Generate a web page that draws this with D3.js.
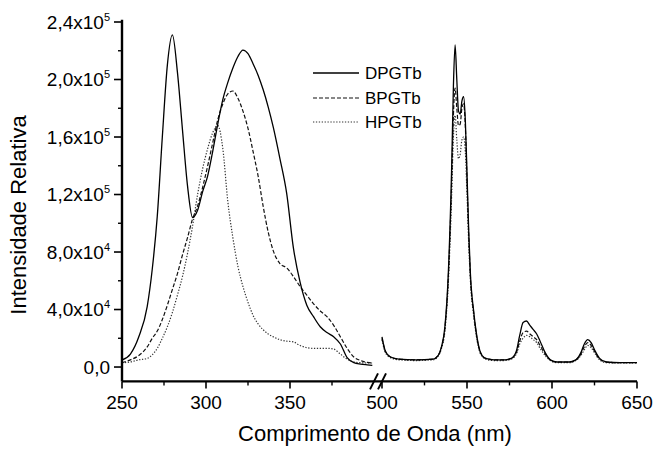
<!DOCTYPE html>
<html>
<head>
<meta charset="utf-8">
<script src="https://cdn.jsdelivr.net/npm/d3@7"></script>
<style>
  html, body { margin: 0; padding: 0; background: #fff; }
  svg { display: block; font-family: "Liberation Sans", Arial, sans-serif; }
</style>
</head>
<body>
<svg id="chart" width="653" height="449"></svg>
<script>
// ---------- DATA (values in units of 1e4 counts) ----------
const seriesNames = ["DPGTb", "BPGTb", "HPGTb"];

const nmLeft = [250, 255, 260, 265, 268, 271, 274, 277, 280, 283, 286, 289, 292, 295, 298, 301, 304, 307, 310, 313, 316, 319, 322, 325, 328, 331, 334, 337, 340, 344, 348, 352, 356, 360, 364, 368, 372, 376, 380, 384, 388, 392, 396, 399];

const dpgtbLeft = [0.49, 0.9, 2.1, 4.2, 6.8, 10.5, 16.0, 21.0, 23.1, 20.5, 16.5, 12.6, 10.4, 10.9, 12.2, 13.3, 15.0, 16.9, 18.6, 19.8, 20.8, 21.6, 22.05, 21.8, 21.1, 20.3, 19.3, 18.1, 16.7, 14.5, 12.1, 8.3, 5.9, 4.3, 3.5, 2.8, 2.4, 2.1, 1.6, 0.65, 0.3, 0.2, 0.15, 0.12];

const bpgtbLeft = [0.3, 0.5, 0.8, 1.4, 2.0, 2.5, 3.3, 4.3, 5.4, 6.5, 7.8, 9.0, 10.3, 11.2, 12.5, 14.0, 15.6, 17.2, 18.3, 19.0, 19.2, 18.7, 17.8, 16.6, 15.0, 13.3, 11.2, 9.4, 8.1, 7.2, 6.9, 6.3, 5.6, 5.0, 4.4, 3.9, 3.5, 2.9, 2.1, 1.3, 0.7, 0.45, 0.32, 0.28];

const hpgtbLeft = [0.3, 0.35, 0.5, 0.6, 0.85, 1.3, 2.0, 2.8, 3.8, 5.0, 6.3, 7.9, 9.8, 12.0, 13.8, 15.2, 16.3, 16.8, 15.2, 11.5, 9.0, 7.0, 5.6, 4.5, 3.6, 3.0, 2.6, 2.3, 2.1, 1.9, 1.8, 1.75, 1.5, 1.35, 1.3, 1.3, 1.3, 1.25, 0.9, 0.55, 0.35, 0.3, 0.28, 0.28];

const nmRight = [500, 502, 505, 510, 520, 530, 533, 535, 537, 539, 541, 542, 543, 544, 545, 546, 547, 548, 549, 550, 551, 552, 554, 556, 558, 561, 566, 572, 576, 579, 581, 583, 585, 587, 589, 591, 593, 596, 599, 603, 610, 614, 617, 619, 621, 623, 625, 628, 632, 640, 650];

const dpgtbRight = [2.1, 1.1, 0.7, 0.55, 0.5, 0.55, 0.8, 1.4, 2.8, 6.5, 14.0, 19.5, 22.4, 20.0, 17.8, 17.6, 18.5, 18.8, 17.2, 13.5, 9.5, 6.5, 3.8, 2.0, 1.0, 0.6, 0.5, 0.5, 0.6, 1.1, 2.2, 3.1, 3.2, 2.9, 2.6, 2.3, 1.8, 1.0, 0.5, 0.35, 0.35, 0.5, 1.0, 1.6, 1.9, 1.7, 1.2, 0.6, 0.35, 0.3, 0.3];

const bpgtbRight = [2.0, 1.1, 0.7, 0.55, 0.5, 0.55, 0.8, 1.4, 2.7, 6.2, 13.0, 17.5, 19.4, 18.0, 16.8, 16.9, 18.0, 18.3, 16.8, 13.0, 9.2, 6.3, 3.7, 1.9, 1.0, 0.6, 0.5, 0.5, 0.6, 1.0, 1.8, 2.4, 2.5, 2.3, 2.1, 1.9, 1.5, 0.9, 0.5, 0.35, 0.35, 0.5, 0.9, 1.4, 1.7, 1.5, 1.1, 0.55, 0.35, 0.3, 0.3];

const hpgtbRight = [1.9, 1.0, 0.65, 0.5, 0.45, 0.5, 0.75, 1.3, 2.5, 5.8, 12.0, 16.0, 17.5, 15.8, 14.5, 14.8, 15.8, 16.0, 15.0, 12.0, 8.6, 6.0, 3.5, 1.8, 0.9, 0.55, 0.45, 0.45, 0.55, 0.9, 1.6, 2.0, 2.2, 2.1, 1.9, 1.7, 1.3, 0.8, 0.45, 0.3, 0.3, 0.45, 0.8, 1.2, 1.5, 1.35, 1.0, 0.5, 0.3, 0.28, 0.28];

const valueUnit = 1e4;

const xMajorTicks = [250, 300, 350, 500, 550, 600, 650];
const xMinorTicks = [275, 325, 375, 525, 575, 625];
const yMajorTicks = [0, 40000, 80000, 120000, 160000, 200000, 240000];
const yMinorTicks = [20000, 60000, 100000, 140000, 180000, 220000];
const yTickMantissa = ["0,0", "4,0x10", "8,0x10", "1,2x10", "1,6x10", "2,0x10", "2,4x10"];
const yTickExponent = ["", "4", "4", "5", "5", "5", "5"];

const xTitle = "Comprimento de Onda (nm)";
const yTitle = "Intensidade Relativa";

// ---------- LAYOUT ----------
const svg = d3.select("#chart");
const plotLeft = 122, plotBottom = 381.4, plotTop = 22;

const x = d3.scaleLinear()
  .domain([250, 400, 500, 650])
  .range([122, 374, 382, 637]);
const y = d3.scaleLinear()
  .domain([-10000, 240000])
  .range([plotBottom, plotTop]);

const styles = [
  { dash: null, color: "#000", width: 1.3 },
  { dash: "4,2", color: "#111", width: 1.2 },
  { dash: "1.3,1.6", color: "#333", width: 1.2 }
];

const leftSets = [dpgtbLeft, bpgtbLeft, hpgtbLeft];
const rightSets = [dpgtbRight, bpgtbRight, hpgtbRight];

const line = d3.line()
  .x(d => x(d[0]))
  .y(d => y(d[1] * valueUnit))
  .curve(d3.curveMonotoneX);

const g = svg.append("g");

[2, 1, 0].forEach(i => {
  const st = styles[i];
  [[nmLeft, leftSets[i]], [nmRight, rightSets[i]]].forEach(([xs, vs]) => {
    g.append("path")
      .datum(xs.map((n, k) => [n, vs[k]]))
      .attr("fill", "none")
      .attr("stroke", st.color)
      .attr("stroke-width", st.width)
      .attr("stroke-dasharray", st.dash)
      .attr("stroke-linejoin", "round")
      .attr("d", line);
  });
});

// ---------- AXES ----------
const axisColor = "#000";
const yAxisG = svg.append("g").attr("transform", `translate(${plotLeft},0)`);
yAxisG.append("line")
  .attr("x1", 0).attr("x2", 0)
  .attr("y1", y(-10000)).attr("y2", y(241500))
  .attr("stroke", axisColor).attr("stroke-width", 2.4);
yAxisG.selectAll(".ymaj").data(yMajorTicks).enter().append("line")
  .attr("x1", -8).attr("x2", 0)
  .attr("y1", d => y(d)).attr("y2", d => y(d))
  .attr("stroke", axisColor).attr("stroke-width", 1.6);
yAxisG.selectAll(".ymin").data(yMinorTicks).enter().append("line")
  .attr("x1", -4).attr("x2", 0)
  .attr("y1", d => y(d)).attr("y2", d => y(d))
  .attr("stroke", axisColor).attr("stroke-width", 1.4);

const yl = yAxisG.selectAll(".ylab").data(yMajorTicks).enter().append("text")
  .attr("x", -12)
  .attr("y", d => y(d))
  .attr("dy", "0.36em")
  .attr("text-anchor", "end")
  .attr("font-size", 19)
  .attr("fill", "#000");
yl.each(function(d, i) {
  const t = d3.select(this);
  t.append("tspan").text(yTickMantissa[i]);
  if (yTickExponent[i]) {
    t.append("tspan").attr("font-size", 11).attr("dy", "-0.75em").text(yTickExponent[i]);
  }
});

const xAxisG = svg.append("g");
xAxisG.append("line")
  .attr("x1", plotLeft).attr("x2", x(650))
  .attr("y1", plotBottom).attr("y2", plotBottom)
  .attr("stroke", axisColor).attr("stroke-width", 2.4);
xAxisG.selectAll(".xmaj").data(xMajorTicks).enter().append("line")
  .attr("x1", d => x(d)).attr("x2", d => x(d))
  .attr("y1", plotBottom).attr("y2", plotBottom + 7)
  .attr("stroke", axisColor).attr("stroke-width", 1.6);
xAxisG.selectAll(".xmin").data(xMinorTicks).enter().append("line")
  .attr("x1", d => x(d)).attr("x2", d => x(d))
  .attr("y1", plotBottom).attr("y2", plotBottom + 4)
  .attr("stroke", axisColor).attr("stroke-width", 1.4);
xAxisG.selectAll(".xlab").data(xMajorTicks).enter().append("text")
  .attr("x", d => x(d))
  .attr("y", 409)
  .attr("text-anchor", "middle")
  .attr("font-size", 19)
  .attr("fill", "#000")
  .text(d => d);

const bx = (x(400) + x(500)) / 2;
[-4, 4].forEach(off => {
  xAxisG.append("line")
    .attr("x1", bx + off - 4).attr("y1", plotBottom + 8)
    .attr("x2", bx + off + 4).attr("y2", plotBottom - 8)
    .attr("stroke", axisColor).attr("stroke-width", 2);
});

svg.append("text")
  .attr("x", 375).attr("y", 441)
  .attr("text-anchor", "middle")
  .attr("font-size", 22)
  .attr("fill", "#000")
  .text(xTitle);
svg.append("text")
  .attr("transform", "translate(26,215) rotate(-90)")
  .attr("text-anchor", "middle")
  .attr("font-size", 22)
  .attr("fill", "#000")
  .text(yTitle);

// ---------- LEGEND ----------
const legY = [73, 98, 122];
const leg = svg.append("g");
seriesNames.forEach((name, i) => {
  const st = styles[i];
  leg.append("line")
    .attr("x1", 313).attr("x2", 359)
    .attr("y1", legY[i]).attr("y2", legY[i])
    .attr("stroke", st.color).attr("stroke-width", st.width)
    .attr("stroke-dasharray", st.dash);
  leg.append("text")
    .attr("x", 365).attr("y", legY[i])
    .attr("dy", "0.36em")
    .attr("font-size", 17)
    .attr("fill", "#000")
    .text(name);
});
</script>
</body>
</html>
